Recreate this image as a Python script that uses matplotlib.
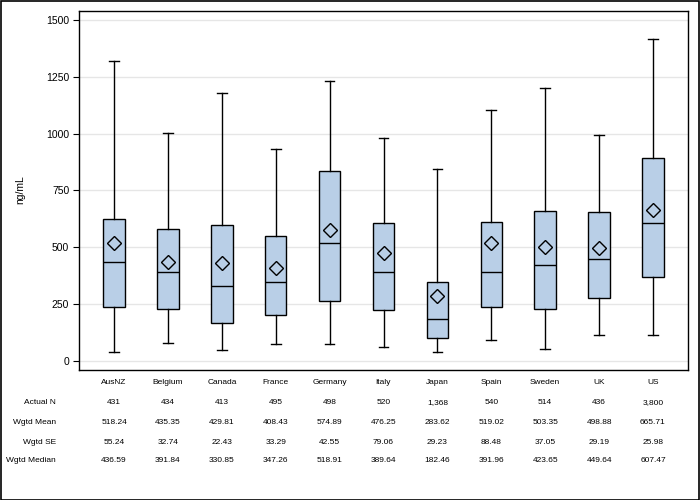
import numpy as np
import matplotlib
matplotlib.use('Agg')
import matplotlib.pyplot as plt
from matplotlib import font_manager
from matplotlib.patches import Rectangle
from matplotlib.transforms import blended_transform_factory

plt.rcParams['font.family'] = ['Liberation Sans', 'DejaVu Sans']

countries = ['AusNZ', 'Belgium', 'Canada', 'France', 'Germany', 'Italy',
             'Japan', 'Spain', 'Sweden', 'UK', 'US']
# box stats (ng/mL)
wlo = [40, 78, 47, 73, 73, 60, 38, 91, 51, 113, 113]
q1 = [236, 227, 166, 201, 262, 223, 100, 236, 227, 276, 368]
q3 = [623, 579, 597, 548, 834, 605, 346, 611, 660, 655, 891]
whi = [1318, 1001, 1177, 931, 1232, 981, 843, 1104, 1199, 993, 1415]
# table values
actual_n = ['431', '434', '413', '495', '498', '520', '1,368', '540', '514', '436', '3,800']
wgtd_mean = [518.24, 435.35, 429.81, 408.43, 574.89, 476.25, 283.62, 519.02, 503.35, 498.88, 665.71]
wgtd_se = [55.24, 32.74, 22.43, 33.29, 42.55, 79.06, 29.23, 88.48, 37.05, 29.19, 25.98]
wgtd_median = [436.59, 391.84, 330.85, 347.26, 518.91, 389.64, 182.46, 391.96, 423.65, 449.64, 607.47]
yticks = [0, 250, 500, 750, 1000, 1250, 1500]

# narrow font for the table if there is one
names = set(f.name for f in font_manager.fontManager.ttflist)
narrow = [n for n in ['Liberation Sans Narrow', 'DejaVu Sans Condensed'] if n in names]
if narrow:
    tab_font = [narrow[0], 'Liberation Sans']
    tab_size = 7.5
else:
    tab_font = ['Liberation Sans']
    tab_size = 6.0

fig = plt.figure(figsize=(7, 5), dpi=100)
ax = fig.add_axes([79/700, 130/500, 609/700, 359/500])

stats = []
for i in range(len(countries)):
    stats.append({'whislo': wlo[i], 'q1': q1[i], 'med': wgtd_median[i], 'q3': q3[i],
                  'whishi': whi[i], 'mean': wgtd_mean[i], 'fliers': []})
pos = np.arange(len(countries))

ax.bxp(stats, positions=pos, widths=0.4, showmeans=True, patch_artist=True,
       boxprops=dict(facecolor='#B9CFE7', edgecolor='black', linewidth=1),
       medianprops=dict(color='black', linewidth=1),
       whiskerprops=dict(color='black', linewidth=1),
       capprops=dict(color='black', linewidth=1),
       capwidths=0.18,
       meanprops=dict(marker='D', markerfacecolor='none', markeredgecolor='black',
                      markersize=7, markeredgewidth=1))

ax.set_xlim(-0.65, 10.65)
ax.set_ylim(-40, 1540)
ax.set_yticks(yticks)
ax.set_yticklabels([str(v) for v in yticks], fontsize=7.5)
ax.set_xticks([])
ax.yaxis.grid(True, color='#E6E6E6', linewidth=1)
ax.set_axisbelow(True)
ax.tick_params(axis='y', length=4, width=0.8, pad=3)
for s in ax.spines.values():
    s.set_linewidth(1)
fig.text(20/700, 1 - 190/500, 'ng/mL', rotation=90, fontsize=7.5,
         ha='center', va='center')

# stats table under the plot
tr = blended_transform_factory(ax.transData, fig.transFigure)
rows = [('', countries),
        ('Actual N', actual_n),
        ('Wgtd Mean', ['%.2f' % v for v in wgtd_mean]),
        ('Wgtd SE', ['%.2f' % v for v in wgtd_se]),
        ('Wgtd Median', ['%.2f' % v for v in wgtd_median])]
row_y = [383, 403, 422, 442, 460]
for (label, vals), yp in zip(rows, row_y):
    yf = 1 - yp/500
    if label:
        fig.text(56/700, yf, label, ha='right', va='center', fontsize=tab_size,
                 family=tab_font)
    for i, v in enumerate(vals):
        ax.text(pos[i], yf, v, transform=tr, ha='center', va='center',
                fontsize=tab_size, family=tab_font)

fig.patches.append(Rectangle((0.001, 0.001), 0.997, 0.997, fill=False,
                             edgecolor='black', linewidth=1.2, transform=fig.transFigure))

fig.savefig('out.png', dpi=100)
